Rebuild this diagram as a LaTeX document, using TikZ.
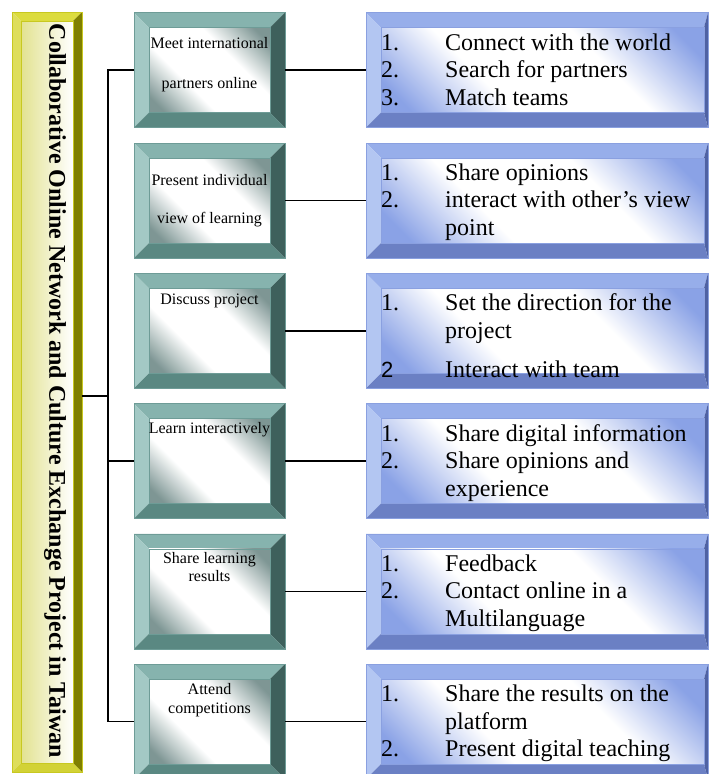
\documentclass[tikz,border=0pt]{standalone}
\usepackage{fontspec}
\setmainfont{Liberation Serif}
\newfontfamily\arialfont{Liberation Sans}
\usetikzlibrary{positioning,calc}

% bevel colours
\definecolor{tealtop}{HTML}{86B3AE}
\definecolor{tealleft}{HTML}{A3C9C5}
\definecolor{tealright}{HTML}{3E605C}
\definecolor{tealbottom}{HTML}{5A8882}
\definecolor{tealedge}{HTML}{6E9C97}
\definecolor{tealshade}{HTML}{7E9694}
\definecolor{bluetop}{HTML}{97AEEA}
\definecolor{blueleft}{HTML}{B3C6F2}
\definecolor{blueright}{HTML}{4F62A3}
\definecolor{bluebottom}{HTML}{6B80C4}
\definecolor{blueedge}{HTML}{8AA0E0}
\definecolor{blueshade}{HTML}{8AA2E6}
\definecolor{olivetop}{HTML}{DCDC3E}
\definecolor{oliveleft}{HTML}{DEDE5C}
\definecolor{oliveright}{HTML}{7F7F00}
\definecolor{olivebottom}{HTML}{D2D236}
\definecolor{oliveedge}{HTML}{C8C820}
\definecolor{oliveshade}{HTML}{E2E290}

\pgfdeclareverticalshading{tealfade}{100bp}{color(0bp)=(tealshade); color(20bp)=(tealshade); color(38bp)=(white); color(62bp)=(white); color(80bp)=(tealshade); color(100bp)=(tealshade)}
\pgfdeclareverticalshading{bluefade}{100bp}{color(0bp)=(blueshade); color(20bp)=(blueshade); color(38bp)=(white); color(62bp)=(white); color(80bp)=(blueshade); color(100bp)=(blueshade)}

\tikzset{link/.style = {line width=1.5pt}}
\tikzset{boxbase/.style = {minimum height=115pt, inner sep=0pt, outer sep=0pt}}
\tikzset{midbox/.style = {boxbase, minimum width=151pt}}
\tikzset{listbox/.style = {boxbase, minimum width=342pt}}
\tikzset{titlebar/.style = {minimum width=70pt, minimum height=760pt, inner sep=0pt, outer sep=0pt}}
\tikzset{tealinner/.style = {shading=tealfade, shading angle=-45}}
\tikzset{blueinner/.style = {shading=bluefade, shading angle=-45}}
\tikzset{oliveinner/.style = {left color=oliveshade, right color=white}}
\tikzset{midtext/.style = {anchor=north, inner sep=0pt, align=center, font=\fontsize{16}{18.5}\selectfont}}
\tikzset{listtext/.style = {anchor=north west, inner sep=0pt, font=\fontsize{24}{27.5}\selectfont}}

% #1 node, #2 colour set, #3 bevel width, #4 right bevel width
\newcommand{\bevel}[4]{%
    \fill[#2top] (#1.north west) -- (#1.north east) -- ([shift={(-#4,-#3)}]#1.north east) -- ([shift={(#3,-#3)}]#1.north west) -- cycle;
    \fill[#2left] (#1.north west) -- ([shift={(#3,-#3)}]#1.north west) -- ([shift={(#3,#3)}]#1.south west) -- (#1.south west) -- cycle;
    \fill[#2right] (#1.north east) -- (#1.south east) -- ([shift={(-#4,#3)}]#1.south east) -- ([shift={(-#4,-#3)}]#1.north east) -- cycle;
    \fill[#2bottom] (#1.south west) -- (#1.south east) -- ([shift={(-#4,#3)}]#1.south east) -- ([shift={(#3,#3)}]#1.south west) -- cycle;
    \shade[#2inner] ([shift={(#3,-#3)}]#1.north west) rectangle ([shift={(-#4,#3)}]#1.south east);
    \draw[#2edge, line width=0.6pt] (#1.north west) rectangle (#1.south east);
    \draw[#2edge, line width=0.6pt] ([shift={(#3,-#3)}]#1.north west) rectangle ([shift={(-#4,#3)}]#1.south east);
}

\begin{document}
\begin{tikzpicture}[x=1pt, y=-1pt]
    \clip (0,0) rectangle (711,774);

    % boxes
    \node[titlebar] (title) at (47,392) {};
    \foreach \i in {1,...,6}
        {
        \node[midbox]  (m\i) at (209.5,{70.2+130.3*(\i-1)}) {};
        \node[listbox] (r\i) [right=81pt of m\i] {};
        }

    % bevels
    \bevel{title}{olive}{9pt}{9pt}
    \foreach \i in {1,...,6}
        {
        \bevel{m\i}{teal}{15pt}{15pt}
        \bevel{r\i}{blue}{15pt}{4pt}
        }

    % connectors
    \coordinate (trunk) at (108,396);
    \draw[link] (m1.west) -| (trunk) |- (m6.west);
    \draw[link] (trunk) -- (trunk -| title.east);
    \draw[link] (m4.west) -- (m4.west -| trunk);
    \foreach \i in {1,...,6}
        \draw[link] (m\i.east) -- (r\i.west);

    % title
    \node[rotate=-90, inner sep=0pt, font=\fontsize{24}{26}\selectfont\bfseries] (title-text) at (55,391)
        {Collaborative Online Network and Culture Exchange Project in Taiwan};

    % middle texts
    \node[midtext] (m1-text) at ([yshift=-24pt]m1.north) {Meet international\\[21.5pt]partners online};
    \node[midtext] (m2-text) at ([yshift=-31pt]m2.north) {Present individual\\[19.5pt]view of learning};
    \node[midtext] (m3-text) at ([yshift=-20pt]m3.north) {Discuss project};
    \node[midtext] (m4-text) at ([yshift=-18.5pt]m4.north) {Learn interactively};
    \node[midtext] (m5-text) at ([yshift=-18pt]m5.north) {Share learning\\results};
    \node[midtext] (m6-text) at ([yshift=-19pt]m6.north) {Attend\\competitions};

    % list texts
    \node[listtext] (r1-text) at ([shift={(15pt,-18pt)}]r1.north west)
        {\begin{tabular}{@{}p{64pt}@{}l@{}}
        1. & Connect with the world\\
        2. & Search for partners\\
        3. & Match teams
        \end{tabular}};
    \node[listtext] (r2-text) at ([shift={(15pt,-18pt)}]r2.north west)
        {\begin{tabular}{@{}p{64pt}@{}l@{}}
        1. & Share opinions\\
        2. & interact with other’s view\\
           & point
        \end{tabular}};
    \node[listtext] (r3-text) at ([shift={(15pt,-18pt)}]r3.north west)
        {\begin{tabular}{@{}p{64pt}@{}l@{}}
        1. & Set the direction for the\\
           & project\\[11.5pt]
        {\arialfont\fontsize{22}{27.5}\selectfont 2} & Interact with team
        \end{tabular}};
    \node[listtext] (r4-text) at ([shift={(15pt,-18pt)}]r4.north west)
        {\begin{tabular}{@{}p{64pt}@{}l@{}}
        1. & Share digital information\\
        2. & Share opinions and\\
           & experience
        \end{tabular}};
    \node[listtext] (r5-text) at ([shift={(15pt,-18pt)}]r5.north west)
        {\begin{tabular}{@{}p{64pt}@{}l@{}}
        1. & Feedback\\
        2. & Contact online in a\\
           & Multilanguage
        \end{tabular}};
    \node[listtext] (r6-text) at ([shift={(15pt,-18pt)}]r6.north west)
        {\begin{tabular}{@{}p{64pt}@{}l@{}}
        1. & Share the results on the\\
           & platform\\
        2. & Present digital teaching
        \end{tabular}};
\end{tikzpicture}
\end{document}
